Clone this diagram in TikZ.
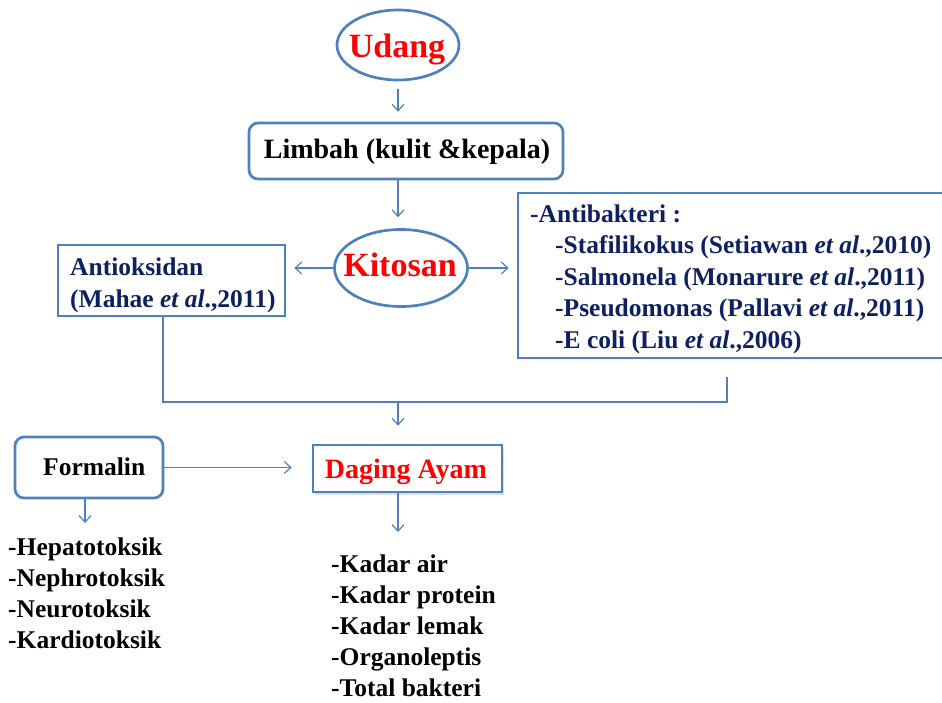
\documentclass[tikz,border=0pt]{standalone}
\usepackage{fontspec}
\setmainfont{Liberation Serif}
\usetikzlibrary{arrows.meta,shapes.geometric,shadows}
\definecolor{ob}{HTML}{4F81BD}
\definecolor{navy}{HTML}{0E2060}
\definecolor{rd}{HTML}{FF0000}
\begin{document}
\begin{tikzpicture}[x=1pt,y=-1pt,
  oval/.style={draw=ob, line width=2.7pt, ellipse, inner sep=0pt},
  rbox/.style={draw=ob, line width=2.7pt, rounded corners=9pt, inner sep=0pt},
  sbox/.style={draw=ob, line width=2.7pt, inner sep=0pt},
  conn/.style={draw=ob, line width=1.2pt},
  arr/.style={conn, -{Straight Barb[length=6.5pt,width=12pt,line width=1.2pt]}},
  big/.style={font=\fontsize{34}{38}\selectfont\bfseries, text=rd, anchor=base, inner sep=0pt},
  mid/.style={font=\fontsize{28}{32}\selectfont\bfseries, anchor=base, inner sep=0pt},
  lst/.style={font=\fontsize{25.5}{31}\selectfont\bfseries, anchor=base west, inner sep=0pt},
]
\useasboundingbox (0,0) rectangle (942,702);

% shapes
\node[oval, minimum width=122pt, minimum height=70pt] (udang) at (398,45) {};
\node[big] (udangT) at (397,57) {Udang};

\node[rbox, minimum width=314pt, minimum height=56pt] (limbah) at (406,151) {};
\node[mid] (limbahT) at (407,158) {Limbah (kulit \&kepala)};

\node[oval, minimum width=133pt, minimum height=77pt] (kitosan) at (401,268) {};
\node[big] (kitosanT) at (400,276) {Kitosan};

\node[sbox, minimum width=227pt, minimum height=71pt] (antiox) at (171.5,280.5) {};
\node[lst, text=navy] (ao1) at (70,275) {Antioksidan};
\node[lst, text=navy] (ao2) at (70,307) {(Mahae \textit{et al}.,2011)};

\node[sbox, minimum width=447pt, minimum height=165pt] (antibak) at (741.5,275.5) {};
\node[lst, text=navy] (ab0) at (530,222) {-Antibakteri :};
\node[lst, text=navy] (ab1) at (555,253.5) {-Stafilikokus (Setiawan \textit{et al}.,2010)};
\node[lst, text=navy] (ab2) at (555,285) {-Salmonela (Monarure \textit{et al}.,2011)};
\node[lst, text=navy] (ab3) at (555,316.5) {-Pseudomonas (Pallavi \textit{et al}.,2011)};
\node[lst, text=navy] (ab4) at (555,348) {-E coli (Liu \textit{et al}.,2006)};

\node[rbox, minimum width=148pt, minimum height=61pt] (formalin) at (89,467.5) {};
\node[lst] (formalinT) at (43,475) {Formalin};

\node[sbox, fill=white, minimum width=189pt, minimum height=47pt,
      drop shadow={opacity=0.25, shadow xshift=2pt, shadow yshift=-2.5pt}] (daging) at (407.5,468.5) {};
\node[mid, text=rd] (dagingT) at (406,478) {Daging Ayam};

% lists
\node[lst] (l1) at (8,555) {-Hepatotoksik};
\node[lst] (l2) at (8,586) {-Nephrotoksik};
\node[lst] (l3) at (8,617) {-Neurotoksik};
\node[lst] (l4) at (8,648) {-Kardiotoksik};

\node[lst] (r1) at (331,572) {-Kadar air};
\node[lst] (r2) at (331,603) {-Kadar protein};
\node[lst] (r3) at (331,634) {-Kadar lemak};
\node[lst] (r4) at (331,665) {-Organoleptis};
\node[lst] (r5) at (331,696) {-Total bakteri};

% coordinates
\coordinate (j) at (398,402);
\coordinate (abend) at (727,377);
\coordinate (fa) at (85,523);
\coordinate (da) at (398,532);

% connectors
\draw[arr, shorten <=8pt, shorten >=10pt] (udang.south -| j) -- (j |- limbah.north);
\draw[arr, shorten >=11pt] (j |- limbah.south) -- (j |- kitosan.north);
\draw[arr, shorten >=8pt] (kitosan.west) -- (kitosan.west -| antiox.east);
\draw[arr, shorten >=8pt] (kitosan.east) -- (kitosan.east -| antibak.west);
\draw[conn] ([xshift=-8.5pt]antiox.south) |- (abend |- j) -- (abend);
\draw[arr, shorten >=18pt] (j) -- (j |- daging.north);
\draw[arr, shorten >=20pt] (formalin.east) -- (formalin.east -| daging.west);
\draw[arr] (fa |- formalin.south) -- (fa);
\draw[arr] (j |- daging.south) -- (da);
\end{tikzpicture}
\end{document}
